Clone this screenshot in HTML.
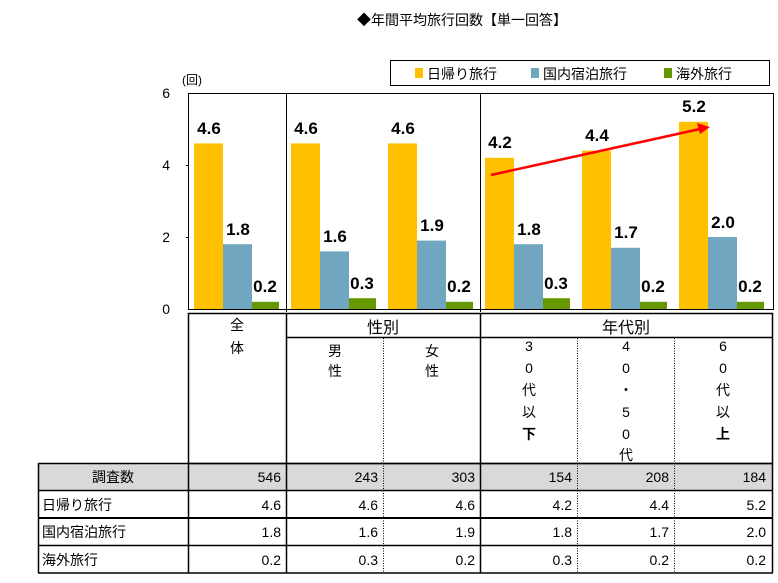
<!DOCTYPE html>
<html><head><meta charset="utf-8"><style>
body{margin:0;background:#fff}
svg text{font-family:"Liberation Sans","Noto Sans CJK JP",sans-serif}
</style></head><body>
<svg width="778" height="578" viewBox="0 0 778 578" xmlns="http://www.w3.org/2000/svg">
<text x="462" y="25" font-size="14" text-anchor="middle">◆年間平均旅行回数【単一回答】</text>
<rect x="390.5" y="60.5" width="379" height="25" fill="#fff" stroke="#000"/>
<rect x="415" y="68" width="8" height="10" fill="#FFC000"/><text x="427" y="79" font-size="14">日帰り旅行</text>
<rect x="531" y="68" width="8" height="10" fill="#71A6C0"/><text x="543" y="79" font-size="14">国内宿泊旅行</text>
<rect x="664" y="68" width="8" height="10" fill="#669900"/><text x="676" y="79" font-size="14">海外旅行</text>
<text x="182" y="84" font-size="12">(回)</text>
<g font-size="14" text-anchor="end"><text x="170" y="98">6</text><text x="170" y="170">4</text><text x="170" y="242">2</text><text x="170" y="314">0</text></g>
<g stroke="#000" fill="none">
<line x1="188.5" y1="93" x2="188.5" y2="310"/>
<line x1="186" y1="165.5" x2="189" y2="165.5"/><line x1="186" y1="237.5" x2="189" y2="237.5"/>
<line x1="188" y1="93.5" x2="773" y2="93.5"/>
<line x1="773.5" y1="93" x2="773.5" y2="310"/>
<line x1="286.5" y1="93" x2="286.5" y2="312"/>
<line x1="480.5" y1="93" x2="480.5" y2="312"/>
<line x1="188" y1="309.5" x2="774" y2="309.5"/>
</g>
<g font-size="17" font-weight="bold" text-anchor="middle">
<rect x="194" y="143.4" width="29" height="165.6" fill="#FFC000"/><text x="209" y="134">4.6</text>
<rect x="223" y="244.2" width="29" height="64.8" fill="#71A6C0"/><text x="238" y="235">1.8</text>
<rect x="252" y="301.8" width="27" height="7.2" fill="#669900"/><text x="265" y="292">0.2</text>
<rect x="291" y="143.4" width="29" height="165.6" fill="#FFC000"/><text x="306" y="134">4.6</text>
<rect x="320" y="251.4" width="29" height="57.6" fill="#71A6C0"/><text x="335" y="242">1.6</text>
<rect x="349" y="298.2" width="27" height="10.8" fill="#669900"/><text x="362" y="289">0.3</text>
<rect x="388" y="143.4" width="29" height="165.6" fill="#FFC000"/><text x="403" y="134">4.6</text>
<rect x="417" y="240.6" width="29" height="68.4" fill="#71A6C0"/><text x="432" y="231">1.9</text>
<rect x="446" y="301.8" width="27" height="7.2" fill="#669900"/><text x="459" y="292">0.2</text>
<rect x="485" y="157.8" width="29" height="151.2" fill="#FFC000"/><text x="500" y="148">4.2</text>
<rect x="514" y="244.2" width="29" height="64.8" fill="#71A6C0"/><text x="529" y="235">1.8</text>
<rect x="543" y="298.2" width="27" height="10.8" fill="#669900"/><text x="556" y="289">0.3</text>
<rect x="582" y="150.6" width="29" height="158.4" fill="#FFC000"/><text x="597" y="141">4.4</text>
<rect x="611" y="247.8" width="29" height="61.2" fill="#71A6C0"/><text x="626" y="238">1.7</text>
<rect x="640" y="301.8" width="27" height="7.2" fill="#669900"/><text x="653" y="292">0.2</text>
<rect x="679" y="121.8" width="29" height="187.2" fill="#FFC000"/><text x="694" y="112">5.2</text>
<rect x="708" y="237" width="29" height="72" fill="#71A6C0"/><text x="723" y="228">2.0</text>
<rect x="737" y="301.8" width="27" height="7.2" fill="#669900"/><text x="750" y="292">0.2</text>
</g>
<line x1="491" y1="175" x2="700" y2="129" stroke="#FF0000" stroke-width="2.5"/>
<polygon points="710,127 697,123 700,134" fill="#FF0000"/>
<rect x="38" y="463" width="735" height="27" fill="#D9D9D9"/>
<g stroke="#000" fill="none" stroke-width="1.5">
<rect x="188.5" y="313.5" width="584" height="150"/>
<line x1="286.5" y1="337.5" x2="773" y2="337.5"/>
<line x1="286.5" y1="313" x2="286.5" y2="573"/>
<line x1="480.5" y1="313" x2="480.5" y2="573"/>
<line x1="38" y1="463.5" x2="773" y2="463.5"/>
<line x1="38" y1="490.5" x2="773" y2="490.5"/>
<line x1="38" y1="518" x2="773" y2="518" stroke-width="2"/>
<line x1="38" y1="545.5" x2="773" y2="545.5"/>
<line x1="38" y1="573" x2="773" y2="573"/>
<line x1="38.5" y1="463" x2="38.5" y2="573"/>
<line x1="188.5" y1="463" x2="188.5" y2="573"/>
<line x1="772.5" y1="463" x2="772.5" y2="573"/>
</g>
<g stroke="#000" stroke-dasharray="1,1.5">
<line x1="383.5" y1="338" x2="383.5" y2="573"/>
<line x1="577.5" y1="338" x2="577.5" y2="573"/>
<line x1="674.5" y1="338" x2="674.5" y2="573"/>
</g>
<g font-size="14" text-anchor="middle">
<text x="237" y="330">全</text><text x="237" y="353">体</text>
<text x="383" y="333" font-size="16">性別</text>
<text x="626" y="333" font-size="16">年代別</text>
<text x="335" y="356">男</text><text x="335" y="376">性</text>
<text x="432" y="356">女</text><text x="432" y="376">性</text>
<text x="529" y="351">3</text><text x="529" y="373">0</text><text x="529" y="395">代</text><text x="529" y="417">以</text><text x="529" y="439" font-weight="bold">下</text>
<text x="626" y="351">4</text><text x="626" y="373">0</text><text x="626" y="395">・</text><text x="626" y="417">5</text><text x="626" y="439">0</text><text x="626" y="460">代</text>
<text x="723" y="351">6</text><text x="723" y="373">0</text><text x="723" y="395">代</text><text x="723" y="417">以</text><text x="723" y="439" font-weight="bold">上</text>
</g>
<g font-size="14">
<text x="113" y="482" text-anchor="middle">調査数</text>
<text x="42" y="510">日帰り旅行</text>
<text x="42" y="537">国内宿泊旅行</text>
<text x="42" y="565">海外旅行</text>
</g>
<g font-size="14" text-anchor="end">
<text x="281" y="482">546</text><text x="378" y="482">243</text><text x="475" y="482">303</text><text x="572" y="482">154</text><text x="669" y="482">208</text><text x="766" y="482">184</text>
<text x="281" y="510">4.6</text><text x="378" y="510">4.6</text><text x="475" y="510">4.6</text><text x="572" y="510">4.2</text><text x="669" y="510">4.4</text><text x="766" y="510">5.2</text>
<text x="281" y="537">1.8</text><text x="378" y="537">1.6</text><text x="475" y="537">1.9</text><text x="572" y="537">1.8</text><text x="669" y="537">1.7</text><text x="766" y="537">2.0</text>
<text x="281" y="565">0.2</text><text x="378" y="565">0.3</text><text x="475" y="565">0.2</text><text x="572" y="565">0.3</text><text x="669" y="565">0.2</text><text x="766" y="565">0.2</text>
</g>
</svg>
</body></html>
